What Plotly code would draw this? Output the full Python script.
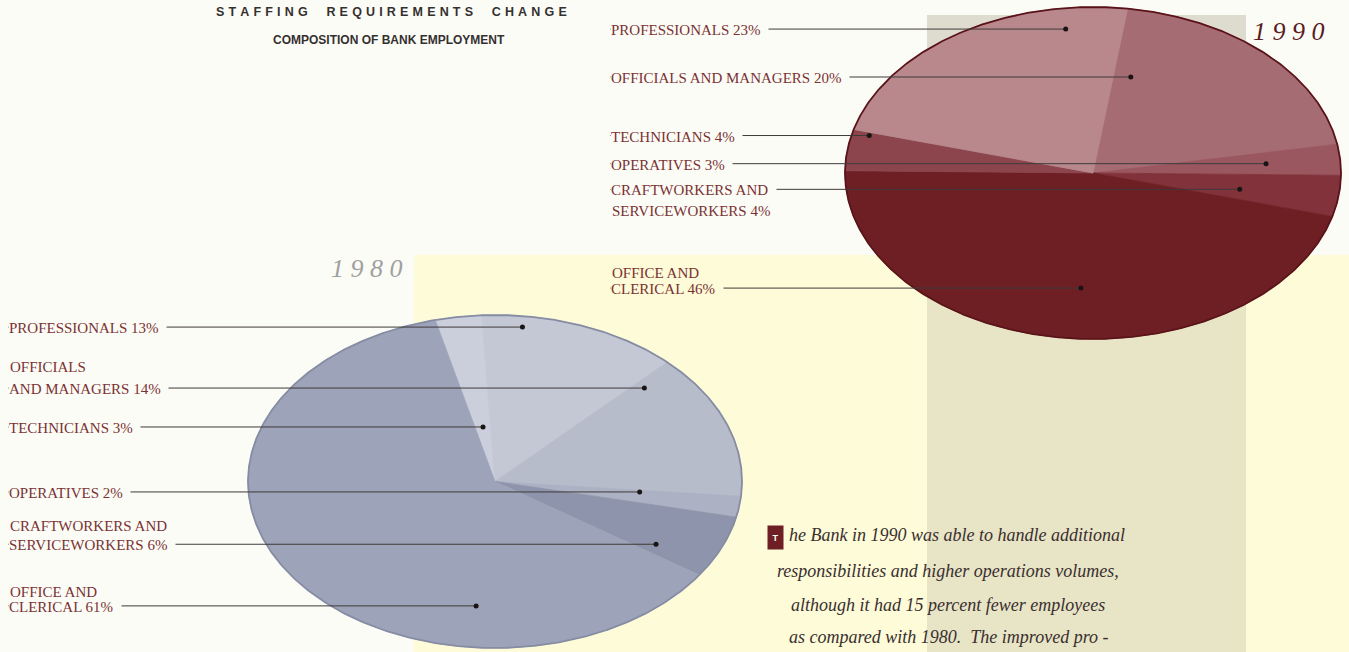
import numpy as np
import plotly.graph_objects as go

# ---------------- data ----------------
categories = ["PROFESSIONALS", "OFFICIALS AND MANAGERS", "TECHNICIANS",
              "OPERATIVES", "CRAFTWORKERS AND SERVICEWORKERS", "OFFICE AND CLERICAL"]
share_1980 = [13, 14, 3, 2, 6, 61]
share_1990 = [23, 20, 4, 3, 4, 46]
year_labels = ["1980", "1990"]

title_text = "STAFFING REQUIREMENTS CHANGE"
subtitle_text = "COMPOSITION OF BANK EMPLOYMENT"
body_lines = ["he Bank in 1990 was able to handle additional",
              "responsibilities and higher operations volumes,",
              "although it had 15 percent fewer employees",
              "as compared with 1980.\u00a0 The improved pro -"]

# ---------------- layout / style ----------------
W, H = 1349, 652
PAPER = "#fcfcf7"
YELLOW = "#fdfbd8"
LABEL_FONT = "Liberation Serif"
LABEL_COLOR = "#7a3232"

pies = [
    dict(values=share_1980, cx=495, cy=481.5, a=247, b=166.5, start=104,
         order=[2, 0, 1, 3, 4, 5],
         colors=["#c4c8d5", "#b7bccb", "#cbcedb", "#acb1c3", "#8e94ab", "#9da3b9"],
         outline="#868ca3",
         anchors=[(.21, .934), (.058, .825), (.51, .331), (.14, .589), (.81, .753), (.278, .751)],
         breaks=[None, 1, None, None, 2, 2], lead=[0, 1, 0, 0, 1, 1],
         gaps=[0, 22, 0, 0, 19, 15], label_x=8, label_size=15),
    dict(values=share_1990, cx=1093, cy=173, a=248, b=166, start=82,
         order=[1, 3, 4, 5, 2, 0],
         colors=["#b8888d", "#a66c74", "#8c454c", "#9a5760", "#82323a", "#6e1f24"],
         outline="#5a1419",
         anchors=[(.816, .874), (.094, .598), (.92, .93), (.5, .7), (.6, .6), (.476, .695)],
         breaks=[None, None, None, None, 2, 2], lead=[0, 0, 0, 0, 0, 1],
         gaps=[0, 0, 0, 0, 21, 16], label_x=610, label_size=15),
]

fig = go.Figure()
annotations = []
extra_annotations = []

for p in pies:
    cx, cy, a, b = p["cx"], p["cy"], p["a"], p["b"]
    vals = p["values"]
    total = float(sum(vals))
    # slice angle ranges (parametric, clockwise)
    ranges = {}
    ang = p["start"]
    for i in p["order"]:
        span = vals[i] / total * 360.0
        ranges[i] = (ang, ang - span)
        ang -= span
    for i in p["order"]:
        a0, a1 = ranges[i]
        n = max(4, int(abs(a0 - a1) * 2))
        th = np.radians(np.linspace(a0, a1, n))
        xs = np.concatenate([[cx], cx + a * np.cos(th), [cx]])
        ys = np.concatenate([[cy], cy - b * np.sin(th), [cy]])
        fig.add_trace(go.Scatter(x=xs, y=ys, mode="lines", fill="toself",
                                 fillcolor=p["colors"][i],
                                 line=dict(color=p["colors"][i], width=0.8),
                                 hoverinfo="skip", showlegend=False))
    th = np.radians(np.linspace(0, 360, 721))
    fig.add_trace(go.Scatter(x=cx + a * np.cos(th), y=cy - b * np.sin(th), mode="lines",
                             line=dict(color=p["outline"], width=1.8),
                             hoverinfo="skip", showlegend=False))

    # labels, leaders and dots
    lx, ly, dx, dy = [], [], [], []
    for i, name in enumerate(categories):
        a0, a1 = ranges[i]
        f, r = p["anchors"][i]
        t = np.radians(a0 + f * (a1 - a0))
        px = cx + a * r * np.cos(t)
        py = cy - b * r * np.sin(t)
        dx.append(px); dy.append(py)
        lx += [p["label_x"], px, None]
        ly += [py, py, None]
        words = name.split(" ")
        k = p["breaks"][i]
        lines = [" ".join(words)] if k is None else [" ".join(words[:k]), " ".join(words[k:])]
        lines[-1] = lines[-1] + " " + f"{vals[i]}%"
        lead = p["lead"][i]
        bg = YELLOW if (p["label_x"] >= 414 and py >= 255) else PAPER
        for j, txt in enumerate(lines):
            yy = py + (j - lead) * p["gaps"][i]
            ann = dict(x=p["label_x"], y=yy, xref="x", yref="y", xanchor="left", yanchor="middle",
                       text=txt + ("\u00a0\u00a0" if j == lead else ""), showarrow=False,
                       font=dict(family=LABEL_FONT, size=p["label_size"], color=LABEL_COLOR),
                       yshift=-1)
            if j == lead:
                ann.update(bgcolor=bg, borderpad=0)
                annotations.append(ann)
            else:
                extra_annotations.append(ann)
    fig.add_trace(go.Scatter(x=lx, y=ly, mode="lines", line=dict(color="#3e3a3a", width=1),
                             hoverinfo="skip", showlegend=False))
    fig.add_trace(go.Scatter(x=dx, y=dy, mode="markers",
                             marker=dict(color="#1a1414", size=5),
                             hoverinfo="skip", showlegend=False))

annotations += extra_annotations

# years
annotations.append(dict(x=405, y=268, xref="x", yref="y", xanchor="right", yanchor="middle",
                        text="<i>" + " ".join(year_labels[0]) + "</i>", showarrow=False,
                        font=dict(family=LABEL_FONT, size=26, color="#a0a0a0")))
annotations.append(dict(x=1327, y=31, xref="x", yref="y", xanchor="right", yanchor="middle",
                        text="<i>" + " ".join(year_labels[1]) + "</i>", showarrow=False,
                        font=dict(family=LABEL_FONT, size=26, color="#5b1b21")))

# titles
spaced = "\u2003\u2002".join("\u2004".join(w) for w in title_text.split(" "))
annotations.append(dict(x=214, y=12, xref="x", yref="y", xanchor="left", yanchor="middle",
                        text="<b>" + spaced + "</b>", showarrow=False,
                        font=dict(family="Liberation Sans", size=12.5, color="#353030")))
annotations.append(dict(x=271, y=40, xref="x", yref="y", xanchor="left", yanchor="middle",
                        text="<b>" + subtitle_text + "</b>", showarrow=False,
                        font=dict(family="Liberation Sans", size=12, color="#353030")))

# body text
body_font = dict(family=LABEL_FONT, size=18, color="#3a2f2f")
annotations.append(dict(x=787, y=535, xref="x", yref="y", xanchor="left", yanchor="middle",
                        text="<i>" + body_lines[0] + "</i>", showarrow=False, font=body_font))
for txt, yy in zip(body_lines[1:], [571, 605, 637]):
    annotations.append(dict(x=948, y=yy, xref="x", yref="y", xanchor="center", yanchor="middle",
                            text="<i>" + txt + "</i>", showarrow=False, font=body_font))
annotations.append(dict(x=775, y=537, xref="x", yref="y", xanchor="center", yanchor="middle",
                        text="<b>T</b>", showarrow=False, width=15, height=23,
                        bgcolor="#6e1f24", borderpad=0,
                        font=dict(family="Liberation Sans", size=9, color="#ffffff")))

shapes = [
    dict(type="rect", xref="x", yref="y", x0=414, x1=W, y0=255, y1=H,
         fillcolor=YELLOW, line=dict(width=0), layer="below"),
    dict(type="rect", xref="x", yref="y", x0=927, x1=1246, y0=15, y1=255,
         fillcolor="#dedbcf", line=dict(width=0), layer="below"),
    dict(type="rect", xref="x", yref="y", x0=927, x1=1246, y0=255, y1=H,
         fillcolor="#e8e4c6", line=dict(width=0), layer="below"),
]

fig.update_layout(
    width=W, height=H, autosize=False,
    margin=dict(l=0, r=0, t=0, b=0),
    paper_bgcolor=PAPER, plot_bgcolor=PAPER,
    xaxis=dict(range=[0, W], visible=False, fixedrange=True),
    yaxis=dict(range=[H, 0], visible=False, fixedrange=True),
    shapes=shapes, annotations=annotations, showlegend=False,
)

fig.write_html("out.html")
